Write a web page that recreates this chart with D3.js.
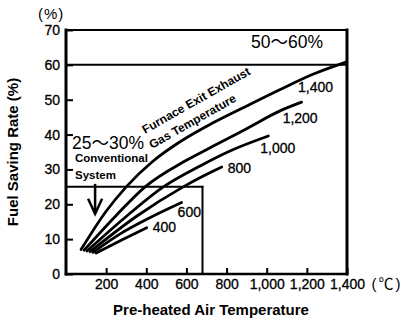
<!DOCTYPE html>
<html><head><meta charset="utf-8">
<script src="https://cdn.jsdelivr.net/npm/d3@7"></script>
<style>
body{margin:0;background:#fff}
svg{display:block}
text{font-family:"Liberation Sans",Arial,"Noto Sans CJK JP",sans-serif;fill:#000}
</style>
</head><body>
<svg id="c" width="407" height="324"></svg>
<script>
// ---- data ----
const exhaustLabels = ["400", "600", "800", "1,000", "1,200", "1,400"];
const air400  = [150, 280, 402];
const rate400 = [6.0, 9.8, 13.3];
const air600  = [135, 270, 420, 576];
const rate600 = [6.2, 11.5, 16.2, 20.5];
const air800  = [120, 350, 584, 684, 776];
const rate800 = [6.4, 16.5, 25.0, 28.1, 30.7];
const air1000  = [105, 300, 485, 668, 817, 1008];
const rate1000 = [6.6, 16.5, 25.0, 31.0, 35.3, 39.6];
const air1200  = [90, 250, 394, 593, 734, 900, 1066, 1174];
const rate1200 = [6.8, 16.8, 25.0, 32.4, 36.7, 41.7, 46.8, 49.3];
const air1400  = [75, 200, 300, 430, 570, 730, 900, 1070, 1230, 1395];
const rate1400 = [7.0, 18.0, 25.0, 32.2, 38.0, 43.3, 48.2, 53.0, 57.3, 60.8];

const xTicks = [200, 400, 600, 800, 1000, 1200, 1400];
const yTicks = [0, 10, 20, 30, 40, 50, 60, 70];
const xDomain = [0, 1400];
const yDomain = [0, 70];

// regions: conventional system (25-30%) box, 50-60% band
const conventionalRate = 25;
const conventionalAirMax = 680;
const highRate = 60;
const arrowAir = 145;
const arrowRates = [25, 17.3];

const regionTexts = ["50～60%", "25～30%"];
const noteLines = ["Conventional", "System"];
const curveTitle = ["Furnace Exit Exhaust", "Gas Temperature"];
const xTitle = "Pre-heated Air Temperature";
const yTitle = "Fuel Saving Rate (%)";
const yUnit = "(%)";
const xUnit = "(℃)";

// ---- drawing ----
const svg = d3.select("#c");
const x = d3.scaleLinear().domain(xDomain).range([66, 347]);
const y = d3.scaleLinear().domain(yDomain).range([274, 30]);

const seriesList = [
  {t: air400, v: rate400}, {t: air600, v: rate600}, {t: air800, v: rate800},
  {t: air1000, v: rate1000}, {t: air1200, v: rate1200}, {t: air1400, v: rate1400}
];
const labelOffsets = [[6, 4.5], [-4, 14.5], [6, 6], [-8, 17], [-19, 21], [-48, 30]];

// axes
const yAxis = d3.axisLeft(y).tickValues(yTicks).tickSize(-7).tickPadding(6).tickFormat(d3.format("d"));
const gy = svg.append("g").attr("transform", `translate(${x(0)},0)`).call(yAxis);
gy.select(".domain").remove();
gy.attr("font-family", null).attr("font-size", null);
gy.selectAll(".tick line").attr("stroke", "#000").attr("stroke-width", 2);
gy.selectAll(".tick text").attr("font-size", 14).attr("stroke", "#000").attr("stroke-width", 0.3);

const xAxis = d3.axisBottom(x).tickValues(xTicks).tickSize(-6).tickPadding(5).tickFormat(d3.format(","));
const gx = svg.append("g").attr("transform", `translate(0,${y(0)})`).call(xAxis);
gx.select(".domain").remove();
gx.attr("font-family", null).attr("font-size", null);
gx.selectAll(".tick line").attr("stroke", "#000").attr("stroke-width", 2);
gx.selectAll(".tick text").attr("font-size", 14).attr("stroke", "#000").attr("stroke-width", 0.3);

// frame
const frame = svg.append("g").attr("stroke", "#000").attr("fill", "none").attr("stroke-linecap", "square");
frame.append("line").attr("x1", x(0)).attr("x2", x(0)).attr("y1", y(0)).attr("y2", y(70)).attr("stroke-width", 3);
frame.append("line").attr("x1", x(0)).attr("x2", x(1400)).attr("y1", y(70)).attr("y2", y(70)).attr("stroke-width", 2);
frame.append("line").attr("x1", x(1400)).attr("x2", x(1400)).attr("y1", y(70)).attr("y2", y(0)).attr("stroke-width", 3);
frame.append("line").attr("x1", x(0)).attr("x2", x(1400)).attr("y1", y(0)).attr("y2", y(0)).attr("stroke-width", 2.5);
frame.append("line").attr("x1", x(0)).attr("x2", x(1400)).attr("y1", y(highRate)).attr("y2", y(highRate)).attr("stroke-width", 2);
frame.append("line").attr("x1", x(0)).attr("x2", x(conventionalAirMax)).attr("y1", y(conventionalRate)).attr("y2", y(conventionalRate)).attr("stroke-width", 2);
frame.append("line").attr("x1", x(conventionalAirMax)).attr("x2", x(conventionalAirMax)).attr("y1", y(conventionalRate)).attr("y2", y(0)).attr("stroke-width", 2);

// curves
const line = d3.line().x(d => x(d[0])).y(d => y(d[1])).curve(d3.curveMonotoneX);
seriesList.forEach((s, i) => {
  const pts = s.t.map((t, k) => [t, s.v[k]]);
  svg.append("path").attr("d", line(pts)).attr("fill", "none").attr("stroke", "#000")
    .attr("stroke-width", 2.8).attr("stroke-linecap", "round");
  const last = pts[pts.length - 1];
  svg.append("text").attr("x", x(last[0]) + labelOffsets[i][0]).attr("y", y(last[1]) + labelOffsets[i][1])
    .attr("font-size", 14).attr("stroke", "#000").attr("stroke-width", 0.3).text(exhaustLabels[i]);
});

// region texts
svg.append("text").attr("x", 251).attr("y", 48).attr("font-size", 17.5).text(regionTexts[0]);
svg.append("text").attr("x", 72).attr("y", 149).attr("font-size", 17.5).text(regionTexts[1]);
svg.append("text").attr("x", 75).attr("y", 162).attr("font-size", 11.5).attr("font-weight", "bold").text(noteLines[0]);
svg.append("text").attr("x", 75).attr("y", 179).attr("font-size", 11.5).attr("font-weight", "bold").text(noteLines[1]);

// arrow
const ax = x(arrowAir);
svg.append("line").attr("x1", ax).attr("x2", ax).attr("y1", y(arrowRates[0]) - 3).attr("y2", y(arrowRates[1]))
  .attr("stroke", "#000").attr("stroke-width", 2.5);
svg.append("path").attr("d", `M${ax - 7},${y(arrowRates[1]) - 15}L${ax},${y(arrowRates[1])}L${ax + 7},${y(arrowRates[1]) - 15}`)
  .attr("fill", "none").attr("stroke", "#000").attr("stroke-width", 2.5);

// curve title (rotated)
svg.append("text").attr("transform", "translate(145,134) rotate(-29.5)").attr("font-size", 12).attr("font-weight", "bold").text(curveTitle[0]);
svg.append("text").attr("transform", "translate(152,149) rotate(-29.5)").attr("font-size", 12).attr("font-weight", "bold").text(curveTitle[1]);

// axis titles & units
svg.append("text").attr("x", 211).attr("y", 315).attr("text-anchor", "middle").attr("font-size", 15).attr("font-weight", "bold").text(xTitle);
svg.append("text").attr("transform", "translate(18,152) rotate(-90)").attr("text-anchor", "middle").attr("font-size", 15).attr("font-weight", "bold").text(yTitle);
svg.append("text").attr("x", 38).attr("y", 19).attr("font-size", 15).attr("letter-spacing", 1).text(yUnit);
svg.append("text").attr("x", 387).attr("y", 289).attr("text-anchor", "middle").attr("font-size", 15).attr("letter-spacing", 2).text(xUnit);
</script>
</body></html>
